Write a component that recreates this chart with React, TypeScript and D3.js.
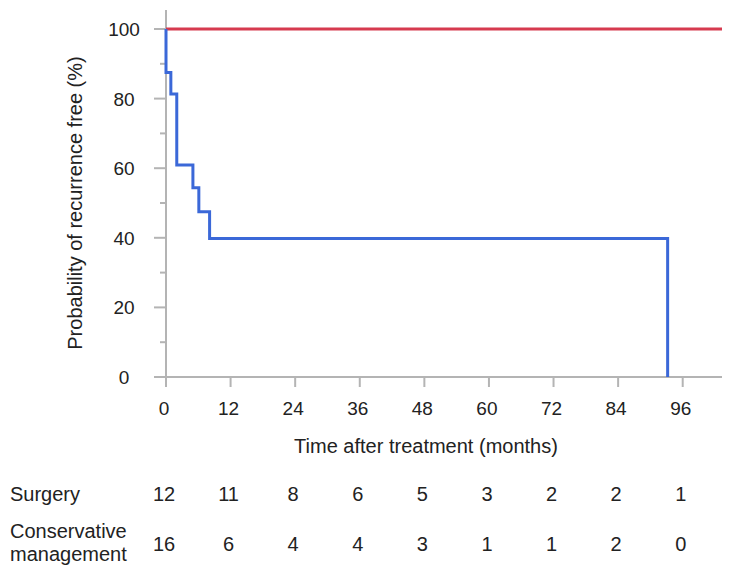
import { scaleLinear, line as d3_line, curveStepAfter, range } from "d3";

// Kaplan–Meier curves, months vs. % recurrence free
const surgeryTimes = [0, 103.3];
const surgeryValues = [100, 100];

const conservativeTimes = [0, 0, 0.9, 2.0, 5.0, 6.1, 8.1, 93.2];
const conservativeValues = [100, 87.5, 81.3, 60.9, 54.4, 47.5, 39.8, 0];

// Number at risk table
const riskTimes = [0, 12, 24, 36, 48, 60, 72, 84, 96];
const riskSurgery = [12, 11, 8, 6, 5, 3, 2, 2, 1];
const riskConservative = [16, 6, 4, 4, 3, 1, 1, 2, 0];

const xTicks = [0, 12, 24, 36, 48, 60, 72, 84, 96];
const yTicks = [0, 20, 40, 60, 80, 100];

const W = 750;
const H = 582;
const FONT = "'Liberation Sans', Arial, sans-serif";
const TEXT = "#222";
const AXIS = "#b4b4b4";

export default function App() {
  const x = scaleLinear().domain([0, 103.3]).range([166, 722]);
  const y = scaleLinear().domain([0, 100]).range([377, 29]);

  type Pt = { t: number; v: number };
  const toPts = (ts: number[], vs: number[]): Pt[] => ts.map((t, i) => ({ t, v: vs[i] }));

  const km = d3_line<Pt>()
    .x((d) => x(d.t))
    .y((d) => y(d.v))
    .curve(curveStepAfter);

  const redPath = km(toPts(surgeryTimes, surgeryValues)) ?? "";
  const bluePath = km(toPts(conservativeTimes, conservativeValues)) ?? "";

  const x0 = x(0);
  const minorY = range(10, 100, 20);

  return (
    <svg
      width={W}
      height={H}
      style={{ position: "absolute", left: 0, top: 0, background: "#fff" }}
      fontFamily={FONT}
    >
      {/* axes */}
      <line x1={x0} x2={x0} y1={10} y2={386} stroke={AXIS} strokeWidth={2} />
      <line x1={x0 - 10} x2={x(103.3)} y1={y(0)} y2={y(0)} stroke={AXIS} strokeWidth={2} />

      {yTicks.map((t) => (
        <g key={`y${t}`}>
          <line x1={x0 - 12} x2={x0} y1={y(t)} y2={y(t)} stroke={AXIS} strokeWidth={2} />
          <text x={124} y={y(t) + 7} textAnchor="middle" fontSize={19} fill={TEXT}>
            {t}
          </text>
        </g>
      ))}
      {minorY.map((t) => (
        <line key={`m${t}`} x1={x0 - 6} x2={x0} y1={y(t)} y2={y(t)} stroke={AXIS} strokeWidth={2} />
      ))}

      {xTicks.map((t) => (
        <g key={`x${t}`}>
          <line x1={x(t)} x2={x(t)} y1={y(0)} y2={y(0) + 10} stroke={AXIS} strokeWidth={2} />
          <text x={x(t) - 2} y={415} textAnchor="middle" fontSize={19} fill={TEXT}>
            {t}
          </text>
        </g>
      ))}

      {/* curves */}
      <path d={redPath} fill="none" stroke="#d63a4f" strokeWidth={3} />
      <path d={bluePath} fill="none" stroke="#3b68d8" strokeWidth={3} />

      {/* axis titles */}
      <text x={426} y={453} textAnchor="middle" fontSize={20} fill={TEXT}>
        Time after treatment (months)
      </text>
      <text
        transform={`translate(82, ${(y(0) + y(100)) / 2}) rotate(-90)`}
        textAnchor="middle"
        fontSize={20}
        fill={TEXT}
      >
        Probability of recurrence free (%)
      </text>

      {/* number at risk */}
      <text x={10} y={501} fontSize={20} fill={TEXT}>Surgery</text>
      <text x={10} y={538} fontSize={20} fill={TEXT}>Conservative</text>
      <text x={10} y={561} fontSize={20} fill={TEXT}>management</text>
      {riskTimes.map((t, i) => (
        <g key={`r${t}`}>
          <text x={x(t) - 2} y={501} textAnchor="middle" fontSize={20} fill={TEXT}>
            {riskSurgery[i]}
          </text>
          <text x={x(t) - 2} y={551} textAnchor="middle" fontSize={20} fill={TEXT}>
            {riskConservative[i]}
          </text>
        </g>
      ))}
    </svg>
  );
}
